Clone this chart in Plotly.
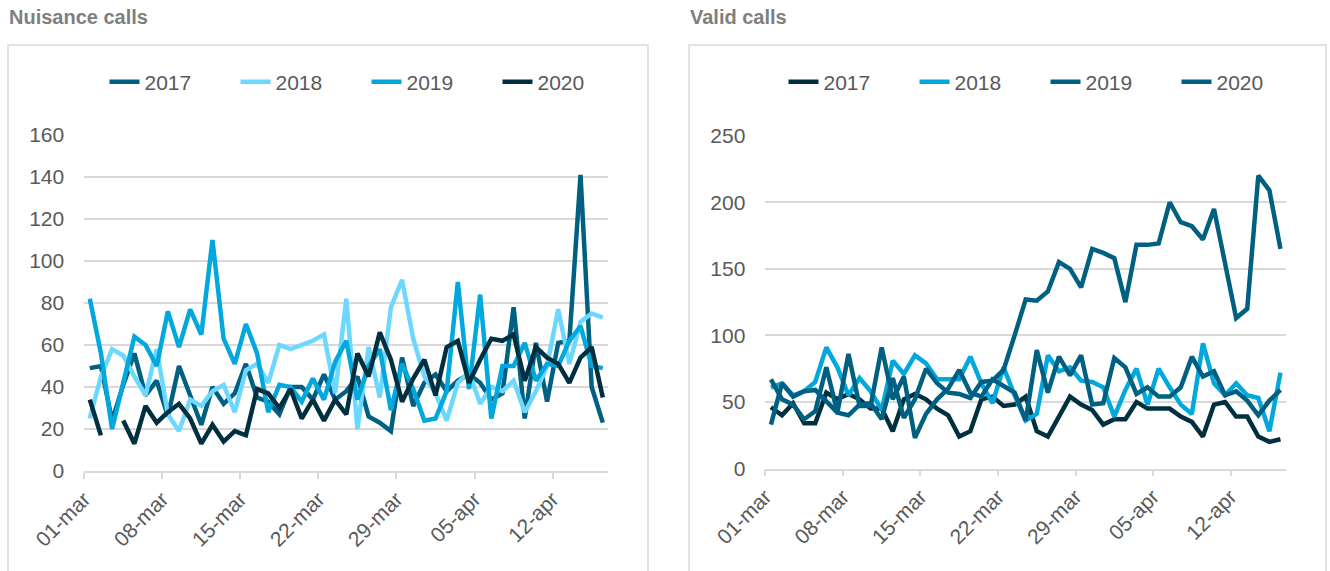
import plotly.graph_objects as go

# ---------------- data ----------------
days = [f"{d:02d}-mar" for d in range(1, 32)] + [f"{d:02d}-apr" for d in range(1, 17)]
tick_labels = ["01-mar", "08-mar", "15-mar", "22-mar", "29-mar", "05-apr", "12-apr"]
years = ["2017", "2018", "2019", "2020"]

nuis_2017 = [49, 50, 24, 41, 56, 36, 43, 26, 50, 36, 22, 40, 32, 37, 51, 35, 33, 27, 40, 40, 34, 46, 34, 38,
             45, 26, 23, 19, 54, 31, 42, 46, 38, 43, 46, 42, 34, 37, 78, 25, 61, 33, 61, 62, 141, 40, 23]
nuis_2018 = [25, 45, 58, 55, 45, 36, 58, 27, 19, 34, 31, 38, 41, 28, 48, 51, 42, 60, 58, 60, 62, 65, 37, 82,
             20, 59, 35, 78, 91, 63, 45, 37, 24, 42, 47, 32, 40, 38, 43, 28, 38, 50, 77, 51, 71, 75, 73]
nuis_2019 = [82, 56, 20, 42, 64, 60, 50, 76, 59, 77, 65, 110, 63, 51, 70, 56, 28, 41, 40, 33, 44, 34, 52, 62,
             34, 50, 58, 29, 51, 39, 24, 25, 38, 90, 39, 84, 25, 50, 50, 61, 43, 51, 50, 62, 69, 50, 49]
nuis_2020 = [34, 17, None, 24, 13, 31, 23, 28, 32, 25, 13, 22, 14, 19, 17, 39, 37, 30, 39, 25, 34, 24, 34, 27,
             56, 45, 66, 53, 33, 44, 53, 36, 59, 62, 42, 53, 63, 62, 65, 43, 59, 54, 51, 42, 54, 59, 35]

valid_2017 = [46, 40, 49, 34, 34, 57, 52, 56, 52, 45, 45, 28, 52, 56, 52, 45, 40, 24, 28, 52, 54, 47, 48, 54,
              28, 24, 39, 54, 48, 44, 33, 37, 37, 50, 45, 45, 45, 39, 35, 24, 48, 50, 39, 39, 24, 20, 22]
valid_2018 = [61, 64, 55, 58, 65, 91, 76, 55, 68, 58, 44, 81, 71, 85, 79, 67, 67, 67, 84, 64, 49, 76, 55, 36,
              41, 85, 73, 76, 66, 65, 61, 39, 59, 75, 48, 75, 61, 48, 41, 94, 64, 55, 64, 55, 53, 28, 72]
valid_2019 = [33, 64, 54, 58, 59, 50, 42, 86, 47, 47, 91, 52, 69, 23, 41, 52, 60, 74, 57, 54, 67, 62, 57, 36,
              89, 57, 84, 70, 85, 48, 49, 83, 76, 56, 61, 54, 54, 61, 84, 69, 73, 55, 58, 51, 40, 51, 59]
valid_2020 = [67, 52, 48, 37, 43, 76, 42, 40, 48, 49, 37, 68, 38, 52, 75, 64, 57, 56, 53, 65, 66, 74, 100, 127,
              126, 133, 155, 150, 136, 165, 162, 158, 125, 168, 168, 169, 200, 185, 182, 172, 195, 154, 113, 120,
              220, 209, 165]

nuis_colors = ["#006082", "#6DD8FF", "#00A8DE", "#00303F"]
valid_colors = ["#00303F", "#00A8DE", "#006082", "#006082"]

# ---------------- figure ----------------
W, H = 1330, 571
x = list(range(len(days)))
tickvals = [days.index(t) - 0.5 for t in tick_labels]

fig = go.Figure()
for yr, vals, col in zip(years, [nuis_2017, nuis_2018, nuis_2019, nuis_2020], nuis_colors):
    fig.add_trace(go.Scatter(x=x, y=vals, name=yr, mode="lines",
                             line=dict(color=col, width=4.5), xaxis="x", yaxis="y",
                             legend="legend", hoverinfo="skip"))
for yr, vals, col in zip(years, [valid_2017, valid_2018, valid_2019, valid_2020], valid_colors):
    fig.add_trace(go.Scatter(x=x, y=vals, name=yr, mode="lines",
                             line=dict(color=col, width=4.5), xaxis="x2", yaxis="y2",
                             legend="legend2", hoverinfo="skip"))

TXT = "#595959"
GRID = "#D9D9D9"
FONT = "Liberation Sans"

def px_x(p):
    return p / W

def px_y(p):
    return 1 - p / H

xaxis_common = dict(range=[-0.5, len(days) - 0.5], tickmode="array", tickvals=tickvals,
                    ticktext=tick_labels, tickangle=-45, showgrid=False, zeroline=False,
                    showline=True, linecolor=GRID, linewidth=1.5, ticks="outside", ticklen=6,
                    tickcolor=GRID, tickwidth=1.5, automargin=False,
                    tickfont=dict(family=FONT, size=21, color=TXT))
yaxis_common = dict(showgrid=True, gridcolor=GRID, gridwidth=1.5, zeroline=False, showline=False,
                    ticks="", automargin=False,
                    tickfont=dict(family=FONT, size=21, color=TXT), ticklabelstandoff=19)

legend_common = dict(orientation="h", xanchor="center", y=px_y(82), yanchor="middle",
                     font=dict(family=FONT, size=21, color=TXT), entrywidth=86,
                     entrywidthmode="pixels", bgcolor="rgba(0,0,0,0)")

fig.update_layout(
    width=W, height=H, margin=dict(l=0, r=0, t=0, b=0, autoexpand=False),
    paper_bgcolor="white", plot_bgcolor="white",
    xaxis=dict(domain=[px_x(84.2), px_x(608.4)], anchor="y", **xaxis_common),
    yaxis=dict(domain=[px_y(471), px_y(135)], range=[0, 160], dtick=20, anchor="x", **yaxis_common),
    xaxis2=dict(domain=[px_x(765.4), px_x(1286)], anchor="y2", **xaxis_common),
    yaxis2=dict(domain=[px_y(468.5), px_y(135.7)], range=[0, 250], dtick=50, anchor="x2", **yaxis_common),
    legend=dict(x=px_x(366.5), **legend_common),
    legend2=dict(x=px_x(1045.5), **legend_common),
    showlegend=True,
    shapes=[
        dict(type="rect", xref="paper", yref="paper", x0=px_x(8), x1=px_x(648), y0=px_y(590), y1=px_y(45),
             line=dict(color=GRID, width=1.5), fillcolor="rgba(0,0,0,0)", layer="below"),
        dict(type="rect", xref="paper", yref="paper", x0=px_x(689), x1=px_x(1326), y0=px_y(590), y1=px_y(45),
             line=dict(color=GRID, width=1.5), fillcolor="rgba(0,0,0,0)", layer="below"),
    ],
    annotations=[
        dict(text="Nuisance calls", xref="paper", yref="paper", x=px_x(7), y=px_y(17),
             xanchor="left", yanchor="middle", showarrow=False,
             font=dict(family=FONT, size=20, color="#7F7F7F", weight="bold")),
        dict(text="Valid calls", xref="paper", yref="paper", x=px_x(688), y=px_y(17),
             xanchor="left", yanchor="middle", showarrow=False,
             font=dict(family=FONT, size=20, color="#7F7F7F", weight="bold")),
    ],
)

fig.write_html("out.html", config={"displayModeBar": False},
               post_script="document.body.style.margin='0px';")
